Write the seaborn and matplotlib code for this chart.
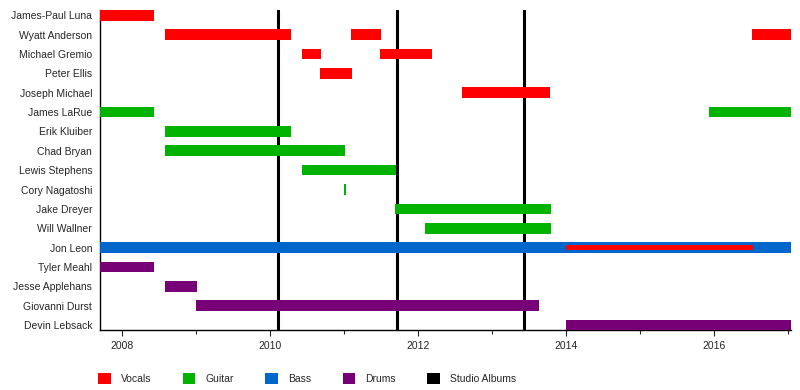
import numpy as np
import pandas as pd
import matplotlib
matplotlib.use("Agg")
import matplotlib.pyplot as plt
from matplotlib.patches import Patch
from matplotlib.ticker import MultipleLocator
import seaborn as sns

# band members, top to bottom
members = ["James-Paul Luna", "Wyatt Anderson", "Michael Gremio", "Peter Ellis",
           "Joseph Michael", "James LaRue", "Erik Kluiber", "Chad Bryan",
           "Lewis Stephens", "Cory Nagatoshi", "Jake Dreyer", "Will Wallner",
           "Jon Leon", "Tyler Meahl", "Jesse Applehans", "Giovanni Durst",
           "Devin Lebsack"]

period_start = 2007.705
period_end = 2017.03

# membership spans (decimal years)
span_member = ["James-Paul Luna", "Wyatt Anderson", "Wyatt Anderson", "Wyatt Anderson",
               "Michael Gremio", "Michael Gremio", "Peter Ellis", "Joseph Michael",
               "James LaRue", "James LaRue", "Erik Kluiber", "Chad Bryan",
               "Lewis Stephens", "Cory Nagatoshi", "Jake Dreyer", "Will Wallner",
               "Jon Leon", "Tyler Meahl", "Jesse Applehans", "Giovanni Durst",
               "Devin Lebsack"]
span_role = ["Vocals", "Vocals", "Vocals", "Vocals",
             "Vocals", "Vocals", "Vocals", "Vocals",
             "Guitar", "Guitar", "Guitar", "Guitar",
             "Guitar", "Guitar", "Guitar", "Guitar",
             "Bass", "Drums", "Drums", "Drums",
             "Drums"]
span_start = [period_start, 2008.58, 2011.09, 2016.51,
              2010.43, 2011.48, 2010.67, 2012.59,
              period_start, 2015.93, 2008.58, 2008.58,
              2010.43, 2011.0, 2011.69, 2012.09,
              period_start, period_start, 2008.58, 2009.0,
              2014.0]
span_end = [2008.43, 2010.28, 2011.50, period_end,
            2010.68, 2012.19, 2011.10, 2013.78,
            2008.43, period_end, 2010.28, 2011.01,
            2011.70, 2011.02, 2013.79, 2013.79,
            period_end, 2008.43, 2009.01, 2013.63,
            period_end]

# secondary role (thin bar)
extra_member = ["Jon Leon"]
extra_role = ["Vocals"]
extra_start = [2014.0]
extra_end = [2016.52]

albums = [2010.10, 2011.71, 2013.43]

roles = ["Vocals", "Guitar", "Bass", "Drums"]
role_colors = {"Vocals": "#ff0000", "Guitar": "#00b300", "Bass": "#0066cc",
               "Drums": "#770077"}

df = pd.DataFrame({"member": span_member, "role": span_role,
                   "start": span_start, "end": span_end})
df["row"] = df["member"].map({m: i for i, m in enumerate(members)})
extra = pd.DataFrame({"member": extra_member, "role": extra_role,
                      "start": extra_start, "end": extra_end})
extra["row"] = extra["member"].map({m: i for i, m in enumerate(members)})

sns.set_style("ticks")
plt.rcParams["font.family"] = ["Liberation Sans", "DejaVu Sans"]

fig = plt.figure(figsize=(8, 3.9), dpi=100)
ax = fig.add_axes([0.1256, 0.153, 0.8628, 0.8214])

h = 0.55
for role in roles:
    sub = df[df["role"] == role]
    ax.barh(sub["row"], sub["end"] - sub["start"], left=sub["start"], height=h,
            color=role_colors[role], linewidth=0, zorder=3)
ax.barh(extra["row"], extra["end"] - extra["start"], left=extra["start"], height=0.22,
        color=[role_colors[r] for r in extra["role"]], linewidth=0, zorder=4)

for a in albums:
    ax.axvline(a, color="black", linewidth=2.2, zorder=2)

ax.set_xlim(period_start, period_end)
ax.set_ylim(len(members) - 1 + h / 2, -h / 2)
ax.set_yticks(range(len(members)))
ax.set_yticklabels(members, fontsize=7.5)
ax.tick_params(axis="y", length=0, pad=6)
ax.xaxis.set_major_locator(MultipleLocator(2))
ax.xaxis.set_minor_locator(MultipleLocator(1))
ax.xaxis.set_major_formatter(matplotlib.ticker.FormatStrFormatter("%d"))
ax.tick_params(axis="x", which="major", length=4, width=0.8, labelsize=7.5, pad=4)
ax.tick_params(axis="x", which="minor", length=3, width=0.8)
sns.despine(ax=ax)
for s in ["left", "bottom"]:
    ax.spines[s].set_linewidth(1.0)
    ax.spines[s].set_color("black")

handles = [Patch(facecolor=role_colors[r], edgecolor="none", label=r) for r in roles]
handles.append(Patch(facecolor="black", edgecolor="none", label="Studio Albums"))
fig.legend(handles=handles, loc="center left", bbox_to_anchor=(0.1225, 0.0295),
           ncol=5, frameon=False, fontsize=7.5, handlelength=1.2, handleheight=1.2,
           handletextpad=1.0, columnspacing=3.0, borderpad=0, borderaxespad=0)

fig.savefig("out.png", dpi=100)
